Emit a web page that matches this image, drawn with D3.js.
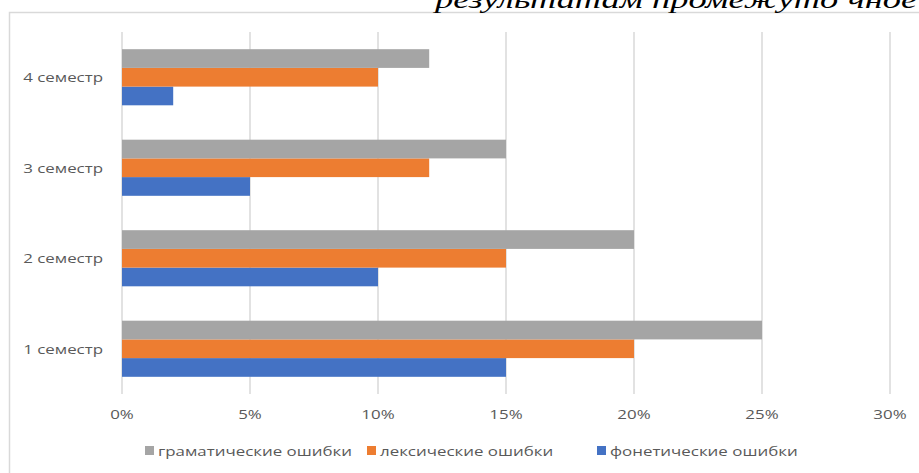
<!DOCTYPE html>
<html><head><meta charset="utf-8">
<script src="https://cdn.jsdelivr.net/npm/d3@7"></script>
<style>body{margin:0;background:#fff;overflow:hidden}</style>
</head><body>
<script>
const categories = ["1 семестр","2 семестр","3 семестр","4 семестр"];
const seriesNames = ["фонетические ошибки","лексические ошибки","граматические ошибки"];
const fonetic = [15,10,5,2];
const lexic = [20,15,12,10];
const gramm = [25,20,15,12];
const tickValues = [0,5,10,15,20,25,30];
const colors = ["#4472c4","#ed7d31","#a5a5a5"];

(function(){
const W=919,H=473,SX=1.3;
const svg=d3.select("body").append("svg").attr("width",W).attr("height",H);
svg.append("rect").attr("x",9.5).attr("y",12.5).attr("width",1000).attr("height",1000)
  .attr("fill","#fff").attr("stroke","#d9d9d9").attr("stroke-width",1.5);

const pl=122,pr=890,pt=32,pb=394;
const x=d3.scaleLinear().domain([0,30]).range([pl,pr]);
const y=d3.scaleBand().domain(categories.slice().reverse()).range([pt,pb]).paddingInner(0.38).paddingOuter(0.19);
const data=categories.map((c,i)=>({c,vals:[fonetic[i],lexic[i],gramm[i]]}));
const yi=d3.scaleBand().domain([2,1,0]).range([0,y.bandwidth()]);

svg.append("g").selectAll("line").data(tickValues).join("line")
  .attr("x1",d=>x(d)).attr("x2",d=>x(d)).attr("y1",pt).attr("y2",pb)
  .attr("stroke","#d9d9d9").attr("stroke-width",1.5);

const g=svg.append("g");
data.forEach(d=>{
  [0,1,2].forEach(s=>{
    g.append("rect").attr("x",x(0)).attr("y",y(d.c)+yi(s)).attr("width",x(d.vals[s])-x(0))
     .attr("height",yi.bandwidth()).attr("fill",colors[s]);
  });
});

function label(sel,px,py,anchor){
  return sel.attr("transform",(d,i)=>`translate(${px(d,i)},${py(d,i)}) scale(${SX},1)`)
    .attr("text-anchor",anchor).attr("font-family","Open Sans").attr("font-size",13).attr("fill","#595959");
}

label(svg.append("g").selectAll("text").data(tickValues).join("text"),d=>x(d),()=>419,"middle").text(d=>d+"%");
label(svg.append("g").selectAll("text").data(categories).join("text"),()=>103,d=>y(d)+y.bandwidth()/2+5,"end").text(d=>d);

const legendItems=[{n:seriesNames[2],c:colors[2],x:145},{n:seriesNames[1],c:colors[1],x:367},{n:seriesNames[0],c:colors[0],x:597}];
const lg=svg.append("g");
lg.selectAll("rect").data(legendItems).join("rect").attr("x",d=>d.x).attr("y",446).attr("width",9).attr("height",9).attr("fill",d=>d.c);
label(lg.selectAll("text").data(legendItems).join("text"),d=>d.x+13,()=>456,"start").text(d=>d.n);

svg.append("text").attr("transform","translate(435,8) scale(1.4,1)").attr("font-family","Liberation Serif").attr("font-style","italic")
 .attr("font-size",26).attr("fill","#000").text("результатам промежуто чное");
})();
</script>
</body></html>
